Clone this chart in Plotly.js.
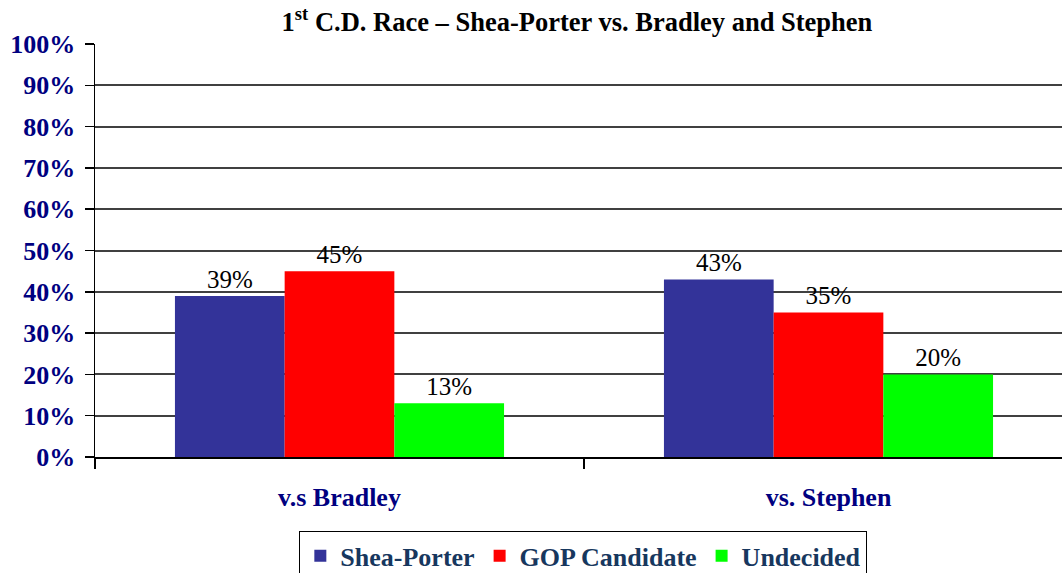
<!DOCTYPE html>
<html>
<head>
<meta charset="utf-8">
<script src="https://cdn.plot.ly/plotly-3.0.1.min.js"></script>
<style>html,body{margin:0;padding:0;background:#fff;}#chart{width:1062px;height:573px;}</style>
</head>
<body>
<div id="chart"></div>
<script>
const categories = ["v.s Bradley", "vs. Stephen"];
const seriesNames = ["Shea-Porter", "GOP Candidate", "Undecided"];
const sheaPorter = [39, 43];
const gopCandidate = [45, 35];
const undecided = [13, 20];
const yTickVals = [0, 10, 20, 30, 40, 50, 60, 70, 80, 90, 100];
const yTickText = ["0%", "10%", "20%", "30%", "40%", "50%", "60%", "70%", "80%", "90%", "100%"];
const colors = ["#333399", "#FF0000", "#00FF00"];
const series = [sheaPorter, gopCandidate, undecided];

const serif = "'Liberation Serif', 'Times New Roman', 'DejaVu Serif', serif";
const traces = series.map((vals, i) => ({
  type: "bar",
  name: "<b>" + seriesNames[i] + "</b>",
  x: categories,
  y: vals,
  marker: {color: colors[i], line: {width: 0}},
  text: vals.map(v => v + "%"),
  textposition: "outside",
  cliponaxis: false,
  textfont: {family: serif, size: 25, color: "#000"},
  hoverinfo: "none"
}));

const layout = {
  width: 1062, height: 573,
  font: {family: serif},
  margin: {l: 95, r: 0, t: 44, b: 116, autoexpand: false},
  paper_bgcolor: "#fff", plot_bgcolor: "#fff",
  barmode: "group",
  bargap: 0.327,
  bargroupgap: 0,
  title: {
    text: "<b>1<sup>st</sup> C.D. Race – Shea-Porter vs. Bradley and Stephen</b>",
    font: {family: serif, size: 26.5, color: "#000"},
    x: 0.5433, xanchor: "center", y: 0.962, yanchor: "middle"
  },
  xaxis: {
    type: "category",
    range: [-0.5, 1.4775],
    showline: true, linecolor: "#000", linewidth: 1.5,
    showgrid: false,
    tickson: "boundaries",
    ticks: "outside", ticklen: 10, tickcolor: "#000", tickwidth: 1.5,
    tickfont: {family: serif, size: 26, color: "#000080"},
    tickprefix: "<b>", ticksuffix: "</b>",
    ticklabelstandoff: 16,
    automargin: false
  },
  yaxis: {
    range: [0, 100],
    tickvals: yTickVals, ticktext: yTickText.map(t => "<b>" + t + "</b>"),
    showgrid: true, gridcolor: "#404040", gridwidth: 2,
    zeroline: false,
    showline: true, linecolor: "#000", linewidth: 1.5,
    ticks: "outside", ticklen: 9, tickcolor: "#000", tickwidth: 1.5,
    tickfont: {family: serif, size: 26, color: "#000080"},
    ticklabelstandoff: 4,
    automargin: false
  },
  showlegend: true,
  legend: {
    orientation: "h",
    x: 0.505, xanchor: "center",
    y: -0.18, yanchor: "top",
    bordercolor: "#000", borderwidth: 1,
    font: {family: serif, size: 26, color: "#17375E"},
    itemwidth: 30,
    traceorder: "normal"
  }
};
Plotly.newPlot("chart", traces, layout, {displayModeBar: false, staticPlot: true});
</script>
</body>
</html>
